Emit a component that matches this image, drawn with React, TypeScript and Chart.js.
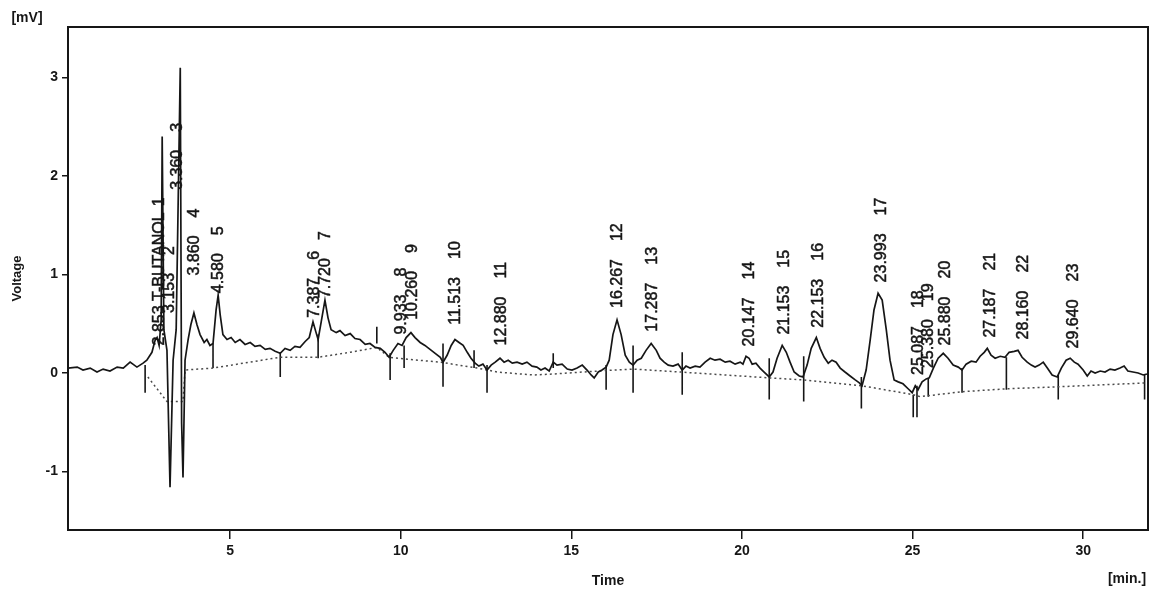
import React, { useEffect, useRef } from "react";
import { Chart, registerables } from "chart.js";

Chart.register(...registerables);

// Detector signal: [time (min), voltage (mV)]
const signalTimes: number[] = [
  0.25, 0.52, 0.69, 0.90, 1.10, 1.28, 1.48, 1.69, 1.87, 2.07, 2.27, 2.45,
  2.56, 2.71, 2.80, 2.86, 2.92, 2.98, 3.01, 3.06, 3.15, 3.24, 3.33, 3.42, 3.54, 3.58, 3.62, 3.68,
  3.77, 3.85, 3.94, 4.03, 4.12, 4.24, 4.32, 4.41, 4.50, 4.59, 4.65, 4.71, 4.79, 4.91,
  5.03, 5.15, 5.29, 5.44, 5.59, 5.73, 5.88, 6.03, 6.17, 6.32, 6.47, 6.61, 6.76, 6.90,
  7.05, 7.20, 7.32, 7.43, 7.52, 7.58, 7.67, 7.78, 7.87, 7.96, 8.11, 8.22, 8.37, 8.52,
  8.66, 8.81, 8.96, 9.10, 9.25, 9.40, 9.54, 9.66, 9.78, 9.92, 10.04, 10.16, 10.30,
  10.42, 10.57, 10.71, 10.86, 11.01, 11.16, 11.24, 11.36, 11.48, 11.59, 11.71, 11.83,
  11.95, 12.06, 12.18, 12.29, 12.41, 12.53, 12.65, 12.77, 12.91, 13.03, 13.15, 13.27,
  13.41, 13.56, 13.70, 13.85, 13.99, 14.11, 14.23, 14.35, 14.47, 14.58, 14.73, 14.88,
  15.02, 15.17, 15.32, 15.46, 15.58, 15.67, 15.79, 15.90, 16.02, 16.11, 16.22, 16.34,
  16.46, 16.58, 16.70, 16.81, 16.93, 17.05, 17.19, 17.34, 17.49, 17.60, 17.72, 17.84,
  17.98, 18.13, 18.25, 18.36, 18.48, 18.63, 18.77, 18.92, 19.07, 19.21, 19.36, 19.51,
  19.65, 19.80, 19.95, 20.03, 20.12, 20.21, 20.30, 20.41, 20.53, 20.65, 20.80, 20.91,
  21.03, 21.18, 21.30, 21.41, 21.53, 21.68, 21.79, 21.91, 22.03, 22.18, 22.29, 22.41,
  22.53, 22.64, 22.76, 22.88, 23.02, 23.17, 23.32, 23.44, 23.52, 23.64, 23.76, 23.87,
  23.99, 24.11, 24.23, 24.34, 24.46, 24.58, 24.72, 24.87, 24.99, 25.08, 25.16, 25.28,
  25.40, 25.49, 25.61, 25.75, 25.90, 26.04, 26.19, 26.34, 26.45, 26.57, 26.72, 26.86,
  26.98, 27.10, 27.19, 27.30, 27.42, 27.57, 27.71, 27.83, 27.98, 28.09, 28.21, 28.36,
  28.48, 28.59, 28.71, 28.83, 28.95, 29.09, 29.24, 29.36, 29.50, 29.62, 29.74, 29.85,
  30.00, 30.12, 30.23, 30.35, 30.50, 30.64, 30.79, 30.93, 31.08, 31.20, 31.31, 31.46,
  31.61, 31.76, 31.87,
];
const signalValues: number[] = [
  0.05, 0.06, 0.03, 0.05, 0.01, 0.04, 0.02, 0.06, 0.05, 0.11, 0.06, 0.10,
  0.13, 0.21, 0.33, 0.36, 0.28, 0.54, 2.40, 0.44, 0.23, -1.16, 0.13, 0.44, 3.10, -0.51, -1.06, 0.13,
  0.34, 0.49, 0.61, 0.49, 0.39, 0.31, 0.34, 0.28, 0.30, 0.64, 0.79, 0.59, 0.39, 0.34,
  0.36, 0.31, 0.34, 0.29, 0.31, 0.27, 0.28, 0.24, 0.25, 0.22, 0.20, 0.25, 0.23, 0.27,
  0.26, 0.32, 0.36, 0.52, 0.41, 0.34, 0.52, 0.74, 0.56, 0.44, 0.41, 0.43, 0.38, 0.40,
  0.35, 0.34, 0.29, 0.30, 0.26, 0.25, 0.21, 0.16, 0.23, 0.30, 0.28, 0.36, 0.41,
  0.36, 0.31, 0.28, 0.24, 0.20, 0.16, 0.11, 0.18, 0.28, 0.34, 0.31, 0.28,
  0.21, 0.15, 0.10, 0.07, 0.09, 0.03, 0.08, 0.11, 0.15, 0.11, 0.13, 0.10,
  0.11, 0.09, 0.11, 0.07, 0.06, 0.03, 0.05, 0.02, 0.11, 0.08, 0.09, 0.04,
  0.03, 0.05, 0.08, 0.03, -0.02, -0.05, 0.01, 0.03, 0.06, 0.13, 0.39, 0.54,
  0.39, 0.18, 0.11, 0.08, 0.13, 0.15, 0.23, 0.30, 0.23, 0.15, 0.11, 0.08,
  0.07, 0.09, 0.03, 0.07, 0.05, 0.07, 0.06, 0.11, 0.15, 0.13, 0.14, 0.11,
  0.12, 0.09, 0.11, 0.09, 0.17, 0.15, 0.09, 0.10, 0.05, 0.01, -0.04, 0.01,
  0.15, 0.28, 0.21, 0.11, 0.01, -0.03, -0.04, 0.08, 0.25, 0.36, 0.25, 0.16,
  0.10, 0.13, 0.11, 0.05, 0.01, -0.03, -0.07, -0.10, -0.13, 0.03, 0.34, 0.64,
  0.81, 0.74, 0.44, 0.13, -0.07, -0.09, -0.11, -0.16, -0.20, -0.13, -0.17, -0.09,
  -0.06, -0.05, 0.05, 0.15, 0.20, 0.15, 0.08, 0.06, 0.03, 0.09, 0.12, 0.11,
  0.17, 0.21, 0.25, 0.18, 0.15, 0.17, 0.16, 0.21, 0.22, 0.23, 0.16, 0.11,
  0.08, 0.06, 0.08, 0.11, 0.05, -0.02, -0.04, 0.05, 0.13, 0.15, 0.11, 0.09,
  0.03, -0.03, 0.02, 0.00, 0.02, 0.01, 0.04, 0.03, 0.05, 0.07, 0.02, 0.01,
  0.00, -0.02, -0.01,
];

// Integration baseline (dotted)
const baselineTimes: number[] = [
  2.59, 3.15, 3.62, 3.68, 4.50, 6.47, 7.58, 8.52, 9.30, 9.66, 10.19, 11.16, 12.24,
  12.83, 13.88, 14.47, 16.23, 16.81, 18.19, 20.83, 21.79, 23.52, 25.02, 25.22, 26.45,
  27.77, 29.27, 31.88,
];
const baselineValues: number[] = [
  -0.04, -0.29, -0.29, 0.03, 0.05, 0.16, 0.16, 0.21, 0.26, 0.16, 0.14, 0.11, 0.05,
  0.01, -0.02, -0.01, 0.03, 0.04, 0.01, -0.05, -0.07, -0.13, -0.22, -0.24, -0.19,
  -0.16, -0.14, -0.10,
];

// Peak start/end markers: time, upper and lower value
const markerTimes: number[] = [
  2.51, 4.50, 6.47, 7.58, 9.30, 9.69, 10.10, 11.24, 12.15, 12.53, 14.47, 16.02,
  16.81, 18.25, 20.80, 21.81, 23.50, 25.02, 25.13, 25.46, 26.45, 27.75, 29.27, 31.80,
];
const markerTops: number[] = [
  0.08, 0.30, 0.21, 0.39, 0.47, 0.20, 0.28, 0.30, 0.23, 0.08, 0.20, 0.08,
  0.28, 0.21, 0.15, 0.17, -0.04, -0.22, -0.13, -0.05, 0.05, 0.16, -0.02, -0.02,
];
const markerBottoms: number[] = [
  -0.20, 0.05, -0.04, 0.15, 0.30, -0.07, 0.05, -0.14, 0.05, -0.20, 0.05, -0.17,
  -0.20, -0.22, -0.27, -0.29, -0.36, -0.45, -0.45, -0.24, -0.20, -0.17, -0.27, -0.27,
];

// Peak annotations
const peakTimes: string[] = [
  "2.853", "3.153", "3.360", "3.860", "4.580", "7.387", "7.720", "9.933", "10.260",
  "11.513", "12.880", "16.267", "17.287", "20.147", "21.153", "22.153", "23.993",
  "25.087", "25.380", "25.880", "27.187", "28.160", "29.640",
];
const peakNames: string[] = [
  "T-BUTANOL", "", "", "", "", "", "", "", "", "", "", "", "", "", "", "", "", "", "", "", "", "", "",
];
const peakNumbers: string[] = [
  "1", "2", "3", "4", "5", "6", "7", "8", "9", "10", "11", "12", "13", "14", "15",
  "16", "17", "18", "19", "20", "21", "22", "23",
];
const peakLabelLevels: number[] = [
  0.28, 0.61, 1.86, 0.99, 0.81, 0.56, 0.76, 0.39, 0.54, 0.49, 0.28, 0.66, 0.42,
  0.27, 0.39, 0.46, 0.92, -0.02, 0.05, 0.28, 0.36, 0.34, 0.25,
];

const xTickStep = 5;
const yTickStep = 1;

const INK = "#161616";

export default function App() {
  const ref = useRef<HTMLCanvasElement | null>(null);

  useEffect(() => {
    const canvas = ref.current;
    if (!canvas) return;

    const trace = signalTimes.map((t, i) => ({ x: t, y: signalValues[i] }));
    const base = baselineTimes.map((t, i) => ({ x: t, y: baselineValues[i] }));
    const marks: { x: number; y: number | null }[] = [];
    markerTimes.forEach((t, i) => {
      marks.push({ x: t, y: markerTops[i] });
      marks.push({ x: t, y: markerBottoms[i] });
      marks.push({ x: t, y: null });
    });

    const framePlugin = {
      id: "frame",
      afterDraw(chart: any) {
        const { ctx, chartArea } = chart;
        ctx.save();
        ctx.strokeStyle = INK;
        ctx.lineWidth = 2;
        ctx.strokeRect(chartArea.left, chartArea.top, chartArea.right - chartArea.left, chartArea.bottom - chartArea.top);
        ctx.fillStyle = INK;
        ctx.font = "bold 14px 'Liberation Sans', Arial, sans-serif";
        ctx.textAlign = "center";
        ctx.textBaseline = "middle";
        ctx.fillText("[mV]", 27, 18);
        ctx.fillText("[min.]", 1127, 579);
        ctx.restore();
      },
    };

    const labelPlugin = {
      id: "peakLabels",
      afterDatasetsDraw(chart: any) {
        const { ctx, scales } = chart;
        const xs = scales.x;
        const ys = scales.y;
        ctx.save();
        ctx.fillStyle = INK;
        ctx.strokeStyle = INK;
        ctx.lineWidth = 0.5;
        ctx.font = "16px 'Liberation Sans', Arial, sans-serif";
        ctx.textAlign = "left";
        ctx.textBaseline = "middle";
        peakTimes.forEach((rt, i) => {
          const px = xs.getPixelForValue(parseFloat(rt)) + 3;
          const py = ys.getPixelForValue(peakLabelLevels[i]);
          const first = peakNames[i] ? rt + " " + peakNames[i] : rt;
          ctx.save();
          ctx.translate(px, py);
          ctx.rotate(-Math.PI / 2);
          ctx.fillText(first, 0, 0);
          ctx.strokeText(first, 0, 0);
          const w = ctx.measureText(first).width;
          const nx = w + (peakNames[i] ? 6 : 18);
          ctx.fillText(peakNumbers[i], nx, 0);
          ctx.strokeText(peakNumbers[i], nx, 0);
          ctx.restore();
        });
        ctx.restore();
      },
    };

    const chart = new Chart(canvas, {
      type: "line",
      data: {
        datasets: [
          {
            label: "Signal",
            data: trace,
            borderColor: INK,
            borderWidth: 1.7,
            pointRadius: 0,
            tension: 0,
          },
          {
            label: "Baseline",
            data: base,
            borderColor: "#4a4a4a",
            borderWidth: 1.5,
            borderDash: [2, 3],
            pointRadius: 0,
            tension: 0,
          },
          {
            label: "Markers",
            data: marks as any,
            borderColor: INK,
            borderWidth: 1.6,
            pointRadius: 0,
            spanGaps: false,
          },
        ],
      },
      options: {
        responsive: false,
        animation: false,
        events: [],
        layout: { padding: { left: 0, right: 2, top: 27, bottom: 0 } },
        plugins: { legend: { display: false }, tooltip: { enabled: false } },
        scales: {
          x: {
            type: "linear",
            min: 0.25,
            max: 31.9,
            afterFit(s: any) {
              s.height = 64;
            },
            ticks: {
              stepSize: xTickStep,
              includeBounds: false,
              maxRotation: 0,
              padding: 4,
              color: INK,
              font: { family: "'Liberation Sans', Arial, sans-serif", size: 14, weight: "bold" },
            },
            grid: { drawOnChartArea: false, drawTicks: true, tickLength: 9, color: INK, lineWidth: 1.5 },
            border: { display: true, color: INK, width: 2 },
            title: {
              display: true,
              text: "Time",
              color: INK,
              font: { family: "'Liberation Sans', Arial, sans-serif", size: 14, weight: "bold" },
              padding: { top: 0, bottom: 4 },
            },
          },
          y: {
            type: "linear",
            min: -1.594,
            max: 3.513,
            afterFit(s: any) {
              s.width = 68;
            },
            ticks: {
              stepSize: yTickStep,
              includeBounds: false,
              padding: 4,
              color: INK,
              font: { family: "'Liberation Sans', Arial, sans-serif", size: 14, weight: "bold" },
            },
            grid: { drawOnChartArea: false, drawTicks: true, tickLength: 6, color: INK, lineWidth: 1.5 },
            border: { display: true, color: INK, width: 2 },
            title: {
              display: true,
              text: "Voltage",
              color: INK,
              font: { family: "'Liberation Sans', Arial, sans-serif", size: 13, weight: "bold" },
              padding: { top: 10, bottom: 0 },
            },
          },
        },
      },
      plugins: [framePlugin, labelPlugin],
    });

    return () => chart.destroy();
  }, []);

  return (
    <div style={{ position: "absolute", left: 0, top: 0, width: 1150, height: 594, background: "#ffffff" }}>
      <canvas ref={ref} width={1150} height={594} style={{ display: "block", width: 1150, height: 594 }} />
    </div>
  );
}
